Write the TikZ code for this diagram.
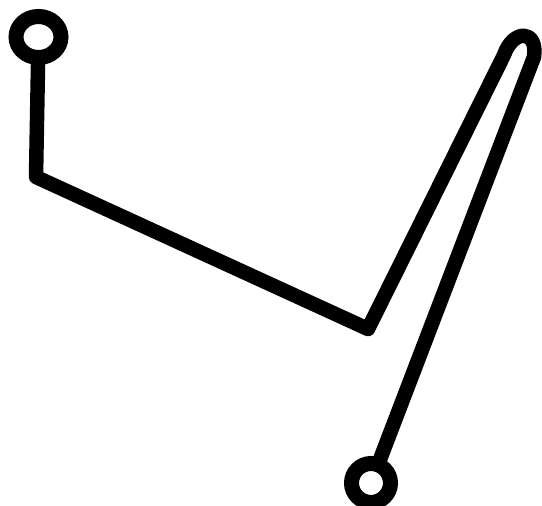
\documentclass[tikz,border=0pt]{standalone}
\begin{document}
\begin{tikzpicture}[x=1pt,y=1pt,
  wire/.style={line width=14.5pt,line join=round,line cap=butt,black},
  ring/.style={line width=15pt,black,fill=white}]
\useasboundingbox (0,0) rectangle (542,506);
\coordinate (c1) at (38.5,469);
\coordinate (k1) at (36,329);
\coordinate (k2) at (368,177);
\coordinate (t1) at (504,451);
\coordinate (t2) at (534,449);
\coordinate (c2) at (371,23);
\draw[wire] (c1) -- (k1) -- (k2) -- (t1)
  .. controls (513,477) and (538,477) .. (t2) -- (c2);
\draw[ring] (c1) ellipse [x radius=22.5, y radius=20.5];
\draw[ring] (c2) circle [radius=19.5];
\end{tikzpicture}
\end{document}
